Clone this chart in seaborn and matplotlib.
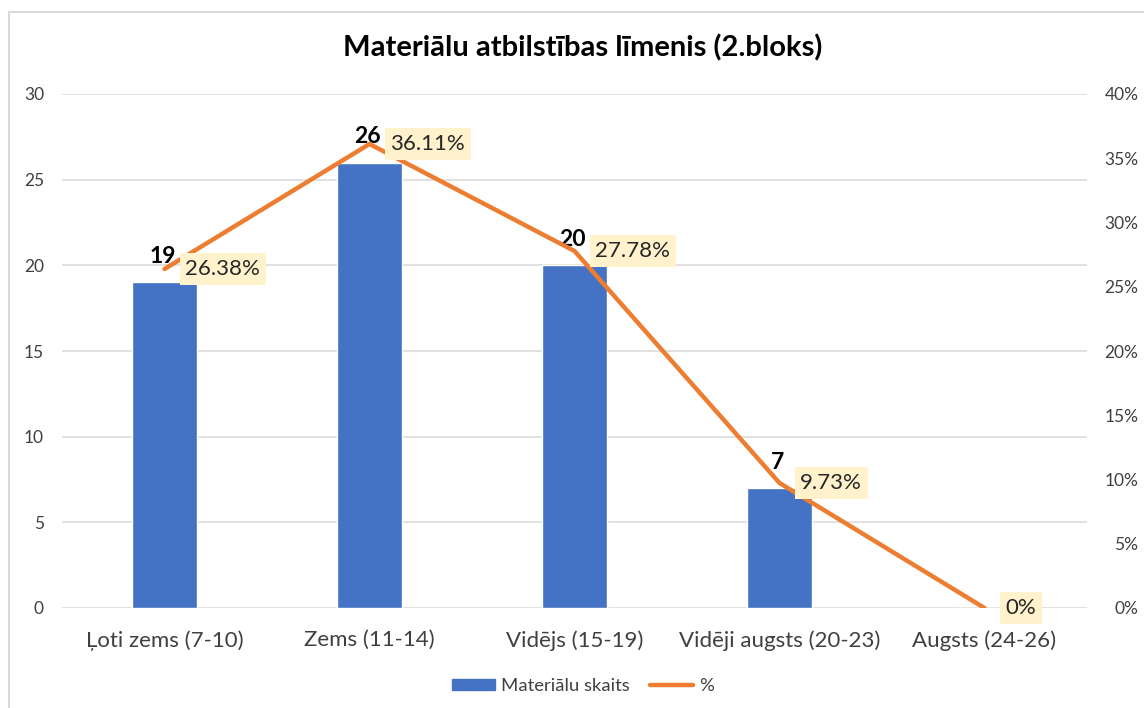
import numpy as np
import pandas as pd
import matplotlib
matplotlib.use("Agg")
import matplotlib.pyplot as plt
import seaborn as sns
from matplotlib.patches import Patch
from matplotlib.lines import Line2D
from matplotlib.ticker import FuncFormatter, MultipleLocator

# ---- data ----
categories = ["Ļoti zems (7-10)", "Zems (11-14)", "Vidējs (15-19)",
              "Vidēji augsts (20-23)", "Augsts (24-26)"]
counts = [19, 26, 20, 7, 0]
percents = [26.38, 36.11, 27.78, 9.73, 0.0]
pct_labels = ["26.38%", "36.11%", "27.78%", "9.73%", "0%"]
title = "Materiālu atbilstības līmenis (2.bloks)"
legend_labels = ["Materiālu skaits", "%"]

BLUE = "#4472C4"
ORANGE = "#ED7D31"
GRID = "#D9D9D9"
TXT = "#404040"

sns.set_theme(style="white")
plt.rcParams["font.family"] = ["Lato", "DejaVu Sans"]

W, H = 1144, 708
fig = plt.figure(figsize=(W / 100, H / 100), dpi=100)
ax = fig.add_axes([62 / W, 1 - 608 / H, (1087 - 62) / W, (608 - 94) / H])

df = pd.DataFrame({"cat": categories, "count": counts, "pct": percents})
sns.barplot(data=df, x="cat", y="count", color=BLUE, width=0.317,
            saturation=1, ax=ax, zorder=3)
ax.set_xlim(-0.5, len(categories) - 0.5)
ax.set_ylim(0, 30)
ax.yaxis.set_major_locator(MultipleLocator(5))
ax.grid(axis="y", color=GRID, lw=1.1, zorder=0)
ax.grid(axis="x", visible=False)
ax.set_axisbelow(True)
for s in ax.spines.values():
    s.set_visible(False)
ax.set_xlabel("")
ax.set_ylabel("")
ax.tick_params(axis="x", length=0, pad=16, labelsize=16, labelcolor=TXT)
ax.tick_params(axis="y", length=0, pad=13, labelsize=12.5, labelcolor=TXT)

ax2 = ax.twinx()
xpos = np.arange(len(categories))
sns.lineplot(x=xpos, y=df["pct"], ax=ax2, color=ORANGE, lw=3.2, sort=False,
             zorder=4)
ax2.set_ylim(0, 40)
ax2.yaxis.set_major_locator(MultipleLocator(5))
ax2.yaxis.set_major_formatter(FuncFormatter(lambda v, p: f"{v:.0f}%"))
ax2.set_ylabel("")
for s in ax2.spines.values():
    s.set_visible(False)
ax2.tick_params(axis="y", length=0, pad=37, labelsize=12.5, labelcolor=TXT)
for t in ax2.get_yticklabels():
    t.set_horizontalalignment("right")
ax2.grid(False)

# count labels
for i, c in enumerate(counts):
    if c > 0:
        ax.annotate(str(c), xy=(i, c), xytext=(-1.5, 11), textcoords="offset points",
                    ha="center", va="bottom", fontsize=16.5, fontweight="bold",
                    color="black", zorder=6)

# percentage labels
for i, (p, lab) in enumerate(zip(percents, pct_labels)):
    ax2.annotate(lab, xy=(i, p), xytext=(15, 0), textcoords="offset points",
                 ha="left", va="center", fontsize=16, color="#262626",
                 bbox=dict(boxstyle="square,pad=0.25", fc="#FFF2CC", ec="none"),
                 zorder=7, annotation_clip=False)

fig.text(583 / W, 1 - 48 / H, title, ha="center", va="center",
         fontsize=21, fontweight="bold", color="black")

handles = [Patch(color=BLUE), Line2D([0], [0], color=ORANGE, lw=3.2)]
fig.legend(handles, legend_labels, loc="center", bbox_to_anchor=(583 / W, 1 - 686 / H),
           ncol=2, frameon=False, fontsize=13.3, handlelength=2.3, handleheight=0.55,
           handletextpad=0.35, columnspacing=1.1, labelcolor=TXT)

# outer chart border (partially visible)
fig.add_artist(Line2D([9 / W, 9 / W], [0, 1 - 12 / H], transform=fig.transFigure,
                      color=GRID, lw=1.5))
fig.add_artist(Line2D([9 / W, 1], [1 - 12 / H, 1 - 12 / H], transform=fig.transFigure,
                      color=GRID, lw=1.5))

fig.savefig("out.png", dpi=100, facecolor="white")
